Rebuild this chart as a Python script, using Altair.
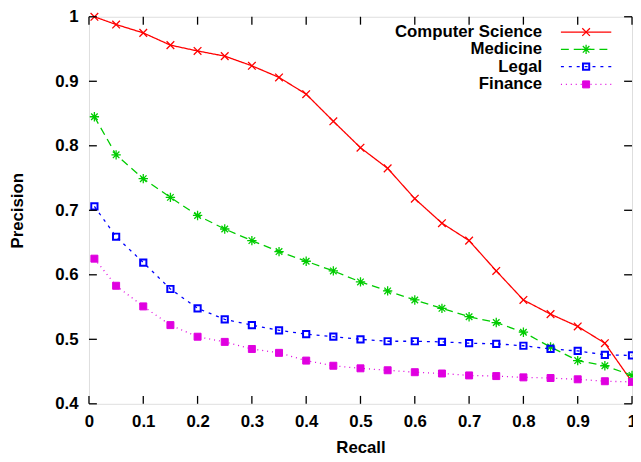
import altair as alt
import pandas as pd

recall = [0.01, 0.05, 0.1, 0.15, 0.2, 0.25, 0.3, 0.35, 0.4, 0.45, 0.5,
          0.55, 0.6, 0.65, 0.7, 0.75, 0.8, 0.85, 0.9, 0.95, 1.0]

series = ["Computer Science", "Medicine", "Legal", "Finance"]

cs = [1.0, 0.988, 0.975, 0.956, 0.947, 0.939, 0.924, 0.906, 0.880, 0.838, 0.797,
      0.765, 0.718, 0.680, 0.653, 0.606, 0.561, 0.539, 0.520, 0.494, 0.434]
medicine = [0.845, 0.786, 0.749, 0.720, 0.692, 0.671, 0.653, 0.636, 0.621, 0.606, 0.589,
            0.575, 0.561, 0.548, 0.535, 0.526, 0.511, 0.488, 0.467, 0.459, 0.444]
legal = [0.706, 0.659, 0.619, 0.578, 0.548, 0.531, 0.522, 0.514, 0.508, 0.504, 0.500,
         0.497, 0.497, 0.496, 0.494, 0.493, 0.490, 0.485, 0.482, 0.476, 0.475]
finance = [0.625, 0.583, 0.551, 0.522, 0.504, 0.496, 0.485, 0.479, 0.467, 0.459, 0.455,
           0.452, 0.449, 0.447, 0.444, 0.443, 0.441, 0.440, 0.438, 0.435, 0.434]

x_ticks = [0, 0.1, 0.2, 0.3, 0.4, 0.5, 0.6, 0.7, 0.8, 0.9, 1.0]
y_ticks = [0.4, 0.5, 0.6, 0.7, 0.8, 0.9, 1.0]

values = [cs, medicine, legal, finance]
colors = ["#ff0000", "#00cc00", "#0000ff", "#e000e0"]
dashes = [[1, 0], [8, 5], [3, 5], [1, 4]]
X_PATH = "M-1,-1L1,1M-1,1L1,-1"
AST_PATH = "M-1,0L1,0M0,-1L0,1M-0.7,-0.7L0.7,0.7M-0.7,0.7L0.7,-0.7"
shapes = [X_PATH, AST_PATH, "square", "square"]
filled = [False, False, False, True]
sizes = [60, 90, 40, 50]
stroke_w = [1.3, 1.3, 2.0, 1.0]

W, H = 550, 392
FONT = "Liberation Sans"

rows = []
for name, ys in zip(series, values):
    for x, y in zip(recall, ys):
        rows.append({"series": name, "recall": x, "precision": y})
df = pd.DataFrame(rows)

xscale = alt.Scale(domain=[0, 1], nice=False, zero=False)
yscale = alt.Scale(domain=[0.4, 1.0], nice=False, zero=False)

xenc = alt.X("recall:Q", scale=xscale, axis=alt.Axis(
    title="Recall", values=x_ticks, format="~g", grid=False, domain=False, ticks=False,
    labelFont=FONT, labelFontSize=17, labelFontWeight="bold", labelColor="black",
    labelPadding=10, labelFlush=False, labelOverlap=False,
    titleFont=FONT, titleFontSize=17, titleFontWeight="bold", titleColor="black",
    titleY=44, titleBaseline="middle"))
yenc = alt.Y("precision:Q", scale=yscale, axis=alt.Axis(
    title="Precision", values=y_ticks, format="~g", grid=False, domain=False, ticks=False,
    labelFont=FONT, labelFontSize=17, labelFontWeight="bold", labelColor="black",
    labelPadding=11, labelFlush=False, labelOverlap=False,
    titleFont=FONT, titleFontSize=17, titleFontWeight="bold", titleColor="black",
    titleX=-72, titleY=H / 2, titleAngle=270, titleBaseline="middle", titleAlign="center"))

base = alt.Chart(df)
layers = []
for i, name in enumerate(series):
    sub = base.transform_filter(alt.datum.series == name)
    layers.append(sub.mark_line(color=colors[i], strokeDash=dashes[i], strokeWidth=1.3,
                                clip=True).encode(x=xenc, y=yenc))


def point_style(i):
    pt = dict(shape=shapes[i], filled=filled[i], size=sizes[i], strokeWidth=stroke_w[i],
              opacity=1)
    if filled[i]:
        pt.update(fill=colors[i], stroke=colors[i])
    else:
        pt.update(stroke=colors[i], fill="transparent")
    return pt


for i, name in enumerate(series):
    sub = base.transform_filter(alt.datum.series == name)
    layers.append(sub.mark_point(**point_style(i)).encode(x="recall:Q", y="precision:Q"))

# inward ticks on all four sides
xt = alt.Chart(pd.DataFrame({"t": x_ticks}))
yt = alt.Chart(pd.DataFrame({"t": y_ticks}))
tick_style = dict(color="black", strokeWidth=1.3)
layers.append(xt.mark_rule(**tick_style).encode(x="t:Q", y=alt.value(H), y2=alt.value(H - 8)))
layers.append(xt.mark_rule(**tick_style).encode(x="t:Q", y=alt.value(0), y2=alt.value(8)))
layers.append(yt.mark_rule(**tick_style).encode(y="t:Q", x=alt.value(0), x2=alt.value(8)))
layers.append(yt.mark_rule(**tick_style).encode(y="t:Q", x=alt.value(W), x2=alt.value(W - 8)))

# legend (top right, label left of sample)
leg_y = [15.5, 33, 50.5, 68.5]
for i, name in enumerate(series):
    ld = alt.Chart(pd.DataFrame({"name": [name]}))
    layers.append(ld.mark_text(align="right", baseline="middle", font=FONT, fontSize=17,
                               fontWeight="bold", color="black").encode(
        text="name:N", x=alt.value(459), y=alt.value(leg_y[i])))
    layers.append(ld.mark_rule(color=colors[i], strokeDash=dashes[i], strokeWidth=1.3).encode(
        x=alt.value(478), x2=alt.value(529), y=alt.value(leg_y[i])))
    layers.append(ld.mark_point(**point_style(i)).encode(x=alt.value(503.5), y=alt.value(leg_y[i])))

chart = alt.layer(*layers).properties(
    width=W, height=H,
    autosize=alt.AutoSizeParams(type="none"),
    padding={"left": 82, "top": 6, "right": 1, "bottom": 52},
).configure_view(stroke="black", strokeWidth=1.5).configure(font=FONT, background="white")

chart.save("out.html", embed_options={"renderer": "svg", "actions": False})
